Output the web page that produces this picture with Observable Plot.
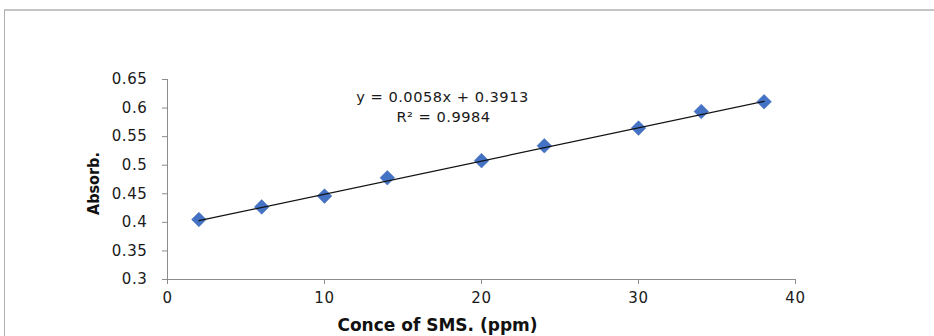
<!DOCTYPE html>
<html>
<head>
<meta charset="utf-8">
<script src="https://cdn.jsdelivr.net/npm/d3@7"></script>
<script src="https://cdn.jsdelivr.net/npm/@observablehq/plot@0.6"></script>
<style>
  html, body { margin: 0; padding: 0; background: #fff; }
  #wrap { position: relative; width: 934px; height: 336px; overflow: hidden; }
  #frame { position: absolute; left: 4px; top: 9px; width: 960px; height: 360px;
           border-top: 2px solid #c4c4c4; border-left: 1px solid #b0b0b0; box-sizing: border-box; }
  #chart { position: absolute; left: 0; top: 0; }
  #chart svg g[aria-label="y-axis tick label"] text,
  #chart svg g[aria-label="x-axis tick label"] text { letter-spacing: 0.6px; }
  #chart svg g.eq text { letter-spacing: 0.5px; }
</style>
</head>
<body>
<div id="wrap"><div id="frame"></div><div id="chart"></div></div>
<script>
// Data
const concentration = [2, 6, 10, 14, 20, 24, 30, 34, 38];
const absorbance = [0.405, 0.427, 0.446, 0.478, 0.508, 0.534, 0.565, 0.594, 0.611];
const slope = 0.0058;
const intercept = 0.3913;
const rSquared = 0.9984;
const xTicks = [0, 10, 20, 30, 40];
const yTicks = [0.3, 0.35, 0.4, 0.45, 0.5, 0.55, 0.6, 0.65];
const yTickLabels = ["0.3", "0.35", "0.4", "0.45", "0.5", "0.55", "0.6", "0.65"];
const xTitle = "Conce of SMS. (ppm)";
const yTitle = "Absorb.";
const equationLine = `y = ${slope}x + ${intercept}`;
const r2Line = `R² = ${rSquared}`;

const points = concentration.map((c, i) => ({x: c, y: absorbance[i]}));
const fitEnds = [d3.min(concentration), d3.max(concentration)];
const fit = fitEnds.map(x => ({x, y: slope * x + intercept}));

const axisColor = "#8c8c8c";
const font = "DejaVu Sans, sans-serif";

const chart = Plot.plot({
  width: 934,
  height: 336,
  marginLeft: 167,
  marginRight: 139,
  marginTop: 79,
  marginBottom: 57,
  style: {fontFamily: font, fontSize: "15px", color: "#1a1a1a", background: "transparent"},
  x: {domain: [0, 40]},
  y: {domain: [0.3, 0.65]},
  marks: [
    Plot.axisY({ticks: yTicks, tickFormat: (d) => yTickLabels[yTicks.indexOf(d)], tickSize: 5, tickPadding: 15,
      stroke: axisColor, label: null, fill: "#1a1a1a", fontSize: 15}),
    Plot.axisX({ticks: xTicks, tickFormat: d => String(d), tickSize: 5, tickPadding: 8,
      stroke: axisColor, label: null, fill: "#1a1a1a", fontSize: 15}),
    Plot.ruleX([0], {stroke: axisColor}),
    Plot.ruleY([0.3], {stroke: axisColor}),
    Plot.dot(points, {x: "x", y: "y", symbol: "diamond2", r: 6.6, fill: "#4472c4", stroke: "#3c66b4", strokeWidth: 0.5}),
    Plot.line(fit, {x: "x", y: "y", stroke: "#111", strokeWidth: 1.2}),
    Plot.text([equationLine], {frameAnchor: "top", text: d => d, dx: -39, dy: 18, lineAnchor: "middle", textAnchor: "middle",
      fontSize: 14.6, fill: "#1a1a1a", className: "eq"}),
    Plot.text([r2Line], {frameAnchor: "top", text: d => d, dx: -38, dy: 38, lineAnchor: "middle", textAnchor: "middle",
      fontSize: 14.6, fill: "#1a1a1a", className: "eq"}),
    Plot.text([xTitle], {frameAnchor: "bottom", text: d => d, dx: -44, dy: 46, lineAnchor: "middle", textAnchor: "middle",
      fontSize: 17, fontWeight: "bold", fill: "#111"}),
    Plot.text([yTitle], {frameAnchor: "left", text: d => d, dx: -74, dy: 4, rotate: -90, lineAnchor: "middle", textAnchor: "middle",
      fontSize: 16, fontWeight: "bold", fontFamily: "DejaVu Sans Condensed, DejaVu Sans, sans-serif", fill: "#111"})
  ]
});
document.getElementById("chart").appendChild(chart);
</script>
</body>
</html>
